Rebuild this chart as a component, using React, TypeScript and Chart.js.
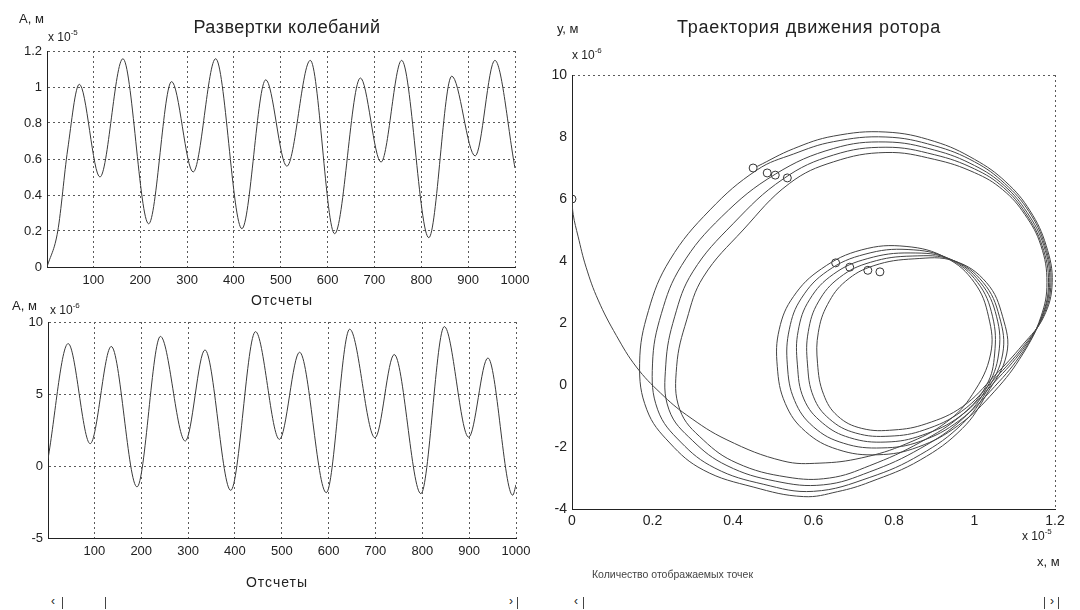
import React, { useEffect, useRef } from "react";
import { Chart, registerables } from "chart.js";
Chart.register(...registerables);

const FONT = "'Liberation Sans', Arial, Helvetica, sans-serif";

// ---------- Top-left: oscillation x(t) (x 10^-5 m) ----------
const topSamples = [1, 24, 45, 70, 114, 163, 218, 267, 313, 361, 417, 468, 513, 563, 615, 670, 714, 758, 816, 865, 915, 957, 1000];
const topValues = [0, 0.2, 0.65, 1.015, 0.5, 1.157, 0.24, 1.03, 0.528, 1.157, 0.213, 1.04, 0.56, 1.148, 0.185, 1.05, 0.583, 1.148, 0.163, 1.06, 0.617, 1.148, 0.55];

// ---------- Bottom-left: oscillation y(t) (x 10^-6 m) ----------
const bottomSamples = [1, 44, 91, 136, 191, 241, 294, 336, 391, 444, 495, 538, 595, 645, 699, 740, 797, 847, 899, 940, 993, 1000];
const bottomValues = [0.5, 8.5, 1.55, 8.3, -1.45, 9.0, 1.73, 8.06, -1.69, 9.33, 1.85, 7.9, -1.85, 9.5, 1.96, 7.74, -1.92, 9.68, 2.0, 7.5, -2.03, -1.3];

// ---------- Tick labels ----------
const sampleTicks = [100, 200, 300, 400, 500, 600, 700, 800, 900, 1000];
const topTicks = [0, 0.2, 0.4, 0.6, 0.8, 1, 1.2];
const bottomTicks = [-5, 0, 5, 10];
const trajXTicks = [0, 0.2, 0.4, 0.6, 0.8, 1, 1.2];
const trajYTicks = [-4, -2, 0, 2, 4, 6, 8, 10];

// ---------- Right: rotor trajectory (x in 10^-5 m, y in 10^-6 m) ----------
const launchPath: [number, number][] = [[0, 6.0], [0.003, 5.5], [0.015, 4.8], [0.035, 3.8], [0.065, 2.74], [0.11, 1.6], [0.16, 0.58], [0.22, -0.26], [0.285, -0.97], [0.385, -1.77], [0.524, -2.45], [0.616, -2.52], [0.72, -2.35], [0.83, -1.9], [0.93, -1.2], [0.995, -0.3]];
const smallLoop1: [number, number][] = [[1.04, 1.0], [1.035, 2.2], [1.0, 3.3], [0.93, 4.1], [0.83, 4.47], [0.72, 4.36], [0.62, 3.75], [0.55, 2.85], [0.515, 1.8], [0.51, 0.6], [0.53, -0.6], [0.58, -1.5], [0.66, -2.08], [0.76, -2.25], [0.86, -2.0], [0.96, -1.3], [1.05, -0.2], [1.12, 1.0]];
const bigLoop1: [number, number][] = [[1.165, 2.2], [1.18, 3.3], [1.165, 4.5], [1.125, 5.5], [1.07, 6.3], [1.0, 6.85], [0.9, 7.28], [0.78, 7.5], [0.65, 7.2], [0.54, 6.5], [0.425, 5.0], [0.326, 3.48], [0.285, 2.1], [0.26, 0.6], [0.268, -0.8], [0.326, -1.77], [0.41, -2.52], [0.534, -2.97], [0.64, -3.0], [0.74, -2.6], [0.865, -1.85], [0.97, -0.95], [1.03, 0.0]];
const smallLoop2: [number, number][] = [[1.05, 1.0], [1.045, 2.2], [1.008, 3.3], [0.935, 4.08], [0.835, 4.37], [0.728, 4.22], [0.635, 3.68], [0.57, 2.8], [0.54, 1.8], [0.535, 0.65], [0.553, -0.5], [0.6, -1.35], [0.675, -1.88], [0.77, -2.03], [0.865, -1.82], [0.962, -1.15], [1.05, -0.05], [1.12, 1.07]];
const bigLoop2: [number, number][] = [[1.167, 2.2], [1.184, 3.3], [1.168, 4.5], [1.128, 5.52], [1.072, 6.37], [1.0, 6.97], [0.9, 7.43], [0.78, 7.67], [0.65, 7.42], [0.525, 6.65], [0.4, 5.2], [0.3, 3.65], [0.255, 2.2], [0.233, 0.65], [0.241, -0.8], [0.3, -1.8], [0.385, -2.6], [0.505, -3.1], [0.625, -3.22], [0.74, -2.8], [0.865, -2.05], [0.97, -1.1], [1.03, -0.1]];
const smallLoop3: [number, number][] = [[1.06, 1.0], [1.055, 2.2], [1.015, 3.3], [0.94, 4.06], [0.84, 4.26], [0.735, 4.08], [0.65, 3.58], [0.59, 2.75], [0.562, 1.75], [0.56, 0.65], [0.576, -0.45], [0.622, -1.22], [0.69, -1.7], [0.78, -1.84], [0.87, -1.62], [0.965, -1.0], [1.05, 0.1], [1.12, 1.15]];
const bigLoop3: [number, number][] = [[1.168, 2.2], [1.187, 3.3], [1.172, 4.5], [1.131, 5.56], [1.074, 6.43], [1.0, 7.08], [0.9, 7.58], [0.78, 7.84], [0.65, 7.63], [0.505, 6.8], [0.372, 5.43], [0.272, 3.85], [0.222, 2.3], [0.2, 0.68], [0.213, -0.8], [0.27, -1.84], [0.355, -2.68], [0.475, -3.2], [0.6, -3.43], [0.74, -2.98], [0.865, -2.25], [0.97, -1.25], [1.03, -0.2]];
const smallLoop4: [number, number][] = [[1.07, 1.0], [1.062, 2.2], [1.022, 3.3], [0.945, 4.03], [0.845, 4.16], [0.742, 3.96], [0.665, 3.47], [0.612, 2.68], [0.587, 1.72], [0.585, 0.68], [0.6, -0.38], [0.64, -1.1], [0.705, -1.55], [0.79, -1.65], [0.875, -1.45], [0.968, -0.85], [1.05, 0.2], [1.12, 1.22]];
const bigLoop4: [number, number][] = [[1.17, 2.2], [1.19, 3.3], [1.175, 4.5], [1.135, 5.6], [1.075, 6.5], [1.0, 7.2], [0.9, 7.72], [0.78, 8.0], [0.65, 7.85], [0.55, 7.45], [0.46, 6.94], [0.343, 5.65], [0.243, 4.03], [0.19, 2.4], [0.168, 0.7], [0.186, -0.8], [0.243, -1.87], [0.326, -2.74], [0.45, -3.29], [0.575, -3.6], [0.66, -3.44], [0.74, -3.13], [0.865, -2.42], [0.97, -1.4], [1.03, -0.3]];
const smallLoop5: [number, number][] = [[1.08, 1.0], [1.07, 2.2], [1.03, 3.3], [0.95, 4.0], [0.85, 4.07], [0.75, 3.85], [0.68, 3.35], [0.635, 2.6], [0.612, 1.7], [0.61, 0.7], [0.625, -0.3], [0.66, -1.0], [0.72, -1.4], [0.8, -1.45], [0.88, -1.25], [0.97, -0.7], [1.05, 0.3], [1.12, 1.3]];
const bigLoop5: [number, number][] = [[1.172, 2.2], [1.193, 3.3], [1.178, 4.5], [1.138, 5.62], [1.078, 6.55], [1.0, 7.28], [0.9, 7.86], [0.78, 8.16], [0.65, 8.03], [0.55, 7.62], [0.46, 7.05]];
const sampleMarkers: [number, number][] = [[0, 6.0], [0.45, 7.0], [0.485, 6.84], [0.505, 6.77], [0.535, 6.68], [0.655, 3.94], [0.69, 3.8], [0.735, 3.7], [0.765, 3.65]];

const trajectoryOrder = [launchPath, smallLoop1, bigLoop1, smallLoop2, bigLoop2, smallLoop3, bigLoop3, smallLoop4, bigLoop4, smallLoop5, bigLoop5];

const TXT = "#222";
const LINE = "#3a3a3a";
const GRID = "#5a5a5a";

const fixTicks = (values: number[]) => (scale: any) => {
  scale.ticks = values.map((v) => ({ value: v }));
};
const fmt = (v: any) => String(Number(Number(v).toFixed(2)));

function timeChart(canvas: HTMLCanvasElement, xs: number[], ys: number[], yMin: number, yMax: number, yTicks: number[], pad: any, yWidth: number, xHeight: number) {
  return new Chart(canvas, {
    type: "line",
    data: {
      datasets: [
        {
          data: xs.map((x, i) => ({ x, y: ys[i] })),
          borderColor: LINE,
          borderWidth: 1,
          pointRadius: 0,
          cubicInterpolationMode: "monotone",
          fill: false,
        },
      ],
    },
    options: {
      animation: false,
      responsive: false,
      devicePixelRatio: 1,
      layout: { padding: pad },
      plugins: { legend: { display: false }, tooltip: { enabled: false }, title: { display: false } },
      scales: {
        x: {
          type: "linear",
          min: 1,
          max: 1000,
          afterBuildTicks: fixTicks(sampleTicks),
          afterFit: (s: any) => { s.height = xHeight; },
          grid: { color: GRID, lineWidth: 1, drawTicks: false },
          border: { display: true, color: "#222", width: 1, dash: [2, 3] },
          ticks: { padding: 6, color: TXT, font: { family: FONT, size: 13 }, maxRotation: 0, autoSkip: false, callback: fmt },
        },
        y: {
          type: "linear",
          min: yMin,
          max: yMax,
          afterBuildTicks: fixTicks(yTicks),
          afterFit: (s: any) => { s.width = yWidth; },
          grid: { color: GRID, lineWidth: 1, drawTicks: false },
          border: { display: true, color: "#222", width: 1, dash: [2, 3] },
          ticks: { padding: 5, color: TXT, font: { family: FONT, size: 13 }, autoSkip: false, callback: fmt },
        },
      },
    } as any,
  });
}

function trajectoryChart(canvas: HTMLCanvasElement) {
  const pts = trajectoryOrder.flat().map(([x, y]) => ({ x, y }));
  const marks = sampleMarkers.map(([x, y]) => ({ x, y }));
  return new Chart(canvas, {
    type: "scatter",
    data: {
      datasets: [
        {
          data: pts,
          showLine: true,
          borderColor: "#444",
          borderWidth: 1,
          pointRadius: 0,
          tension: 0.4,
        },
        {
          data: marks,
          showLine: false,
          pointRadius: 4,
          pointStyle: "circle",
          borderColor: "#333",
          backgroundColor: "rgba(0,0,0,0)",
          borderWidth: 1,
        },
      ],
    },
    options: {
      animation: false,
      responsive: false,
      devicePixelRatio: 1,
      layout: { padding: { top: 75, right: 25, left: 0, bottom: 0 } },
      plugins: { legend: { display: false }, tooltip: { enabled: false } },
      scales: {
        x: {
          type: "linear",
          min: 0,
          max: 1.2,
          afterBuildTicks: fixTicks(trajXTicks),
          afterFit: (s: any) => { s.height = 31; },
          grid: {
            drawTicks: false,
            lineWidth: 1,
            color: (ctx: any) => (ctx.index === trajXTicks.length - 1 ? GRID : "rgba(0,0,0,0)"),
          },
          border: { display: true, color: "#222", width: 1, dash: [2, 3] },
          ticks: { padding: 4, color: TXT, font: { family: FONT, size: 14 }, maxRotation: 0, autoSkip: false, callback: fmt },
        },
        y: {
          type: "linear",
          min: -4,
          max: 10,
          afterBuildTicks: fixTicks(trajYTicks),
          afterFit: (s: any) => { s.width = 32; },
          grid: {
            drawTicks: false,
            lineWidth: 1,
            color: (ctx: any) => (ctx.index === trajYTicks.length - 1 ? GRID : "rgba(0,0,0,0)"),
          },
          border: { display: true, color: "#222", width: 1, dash: [2, 3] },
          ticks: { padding: 5, color: TXT, font: { family: FONT, size: 14 }, autoSkip: false, callback: fmt },
        },
      },
    } as any,
  });
}

const txt = (extra: React.CSSProperties): React.CSSProperties => ({
  position: "absolute",
  fontFamily: FONT,
  color: TXT,
  whiteSpace: "nowrap",
  lineHeight: 1.15,
  ...extra,
});

function Exp({ left, top, p }: { left: number; top: number; p: string }) {
  return (
    <div style={txt({ left, top, fontSize: 12 })}>
      x 10<sup style={{ fontSize: 8, verticalAlign: "top", position: "relative", top: -3 }}>{p}</sup>
    </div>
  );
}

function VLine({ x, y, h }: { x: number; y: number; h: number }) {
  return <div style={{ position: "absolute", left: x, top: y, width: 1, height: h, background: "#444" }} />;
}

export default function App() {
  const c1 = useRef<HTMLCanvasElement>(null);
  const c2 = useRef<HTMLCanvasElement>(null);
  const c3 = useRef<HTMLCanvasElement>(null);

  useEffect(() => {
    const charts: Chart[] = [];
    if (c1.current) charts.push(timeChart(c1.current, topSamples, topValues, 0, 1.2, topTicks, { top: 51, right: 25, left: 0, bottom: 0 }, 47, 33));
    if (c2.current) charts.push(timeChart(c2.current, bottomSamples, bottomValues, -5, 10, bottomTicks, { top: 42, right: 24, left: 0, bottom: 0 }, 48, 42));
    if (c3.current) charts.push(trajectoryChart(c3.current));
    return () => charts.forEach((c) => c.destroy());
  }, []);

  return (
    <div style={{ position: "fixed", left: 0, top: 0, width: 1080, height: 610, background: "#fff", overflow: "hidden" }}>
      <canvas ref={c1} width={540} height={300} style={{ position: "absolute", left: 0, top: 0, width: 540, height: 300 }} />
      <canvas ref={c2} width={540} height={300} style={{ position: "absolute", left: 0, top: 280, width: 540, height: 300 }} />
      <canvas ref={c3} width={540} height={540} style={{ position: "absolute", left: 540, top: 0, width: 540, height: 540 }} />

      {/* left texts */}
      <div style={txt({ left: 19, top: 12, fontSize: 13 })}>А, м</div>
      <Exp left={48} top={31} p="-5" />
      <div style={txt({ left: 287, top: 17, fontSize: 18, letterSpacing: 0.5, transform: "translateX(-50%)" })}>Развертки колебаний</div>
      <div style={txt({ left: 282, top: 292, fontSize: 14, letterSpacing: 1, transform: "translateX(-50%)" })}>Отсчеты</div>
      <div style={txt({ left: 12, top: 299, fontSize: 13 })}>А, м</div>
      <Exp left={50} top={304} p="-6" />
      <div style={txt({ left: 277, top: 574, fontSize: 14, letterSpacing: 1, transform: "translateX(-50%)" })}>Отсчеты</div>

      {/* right texts */}
      <div style={txt({ left: 557, top: 22, fontSize: 13 })}>у, м</div>
      <div style={txt({ left: 809, top: 17, fontSize: 18, letterSpacing: 0.7, transform: "translateX(-50%)" })}>Траектория движения ротора</div>
      <Exp left={572} top={49} p="-6" />
      <Exp left={1022} top={530} p="-5" />
      <div style={txt({ left: 1037, top: 555, fontSize: 13 })}>х, м</div>
      <div style={txt({ left: 592, top: 568, fontSize: 10.5, color: "#444" })}>Количество отображаемых точек</div>

      {/* scrollbars */}
      <div style={txt({ left: 51, top: 595, fontSize: 12 })}>‹</div>
      <VLine x={62} y={597} h={12} />
      <VLine x={105} y={597} h={12} />
      <div style={txt({ left: 509, top: 595, fontSize: 12 })}>›</div>
      <VLine x={517} y={597} h={12} />
      <div style={txt({ left: 574, top: 595, fontSize: 12 })}>‹</div>
      <VLine x={583} y={597} h={12} />
      <VLine x={1044} y={597} h={12} />
      <div style={txt({ left: 1050, top: 595, fontSize: 12 })}>›</div>
      <VLine x={1058} y={597} h={12} />
    </div>
  );
}
